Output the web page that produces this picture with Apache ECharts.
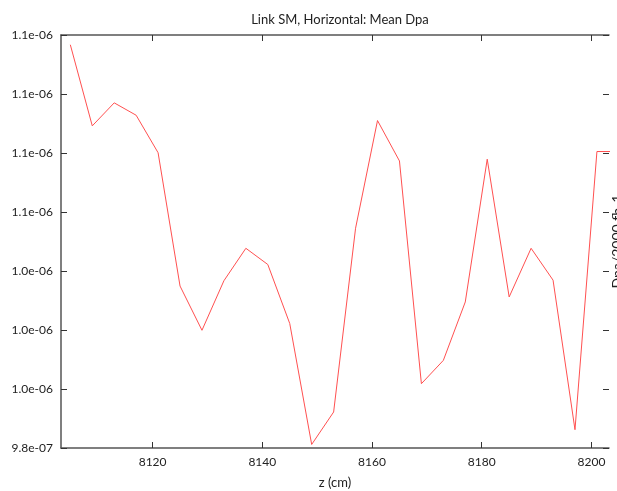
<!DOCTYPE html>
<html>
<head>
<meta charset="utf-8">
<script src="https://cdn.jsdelivr.net/npm/echarts@6/dist/echarts.min.js"></script>
<style>
  html, body { margin: 0; padding: 0; background: #fff; }
  #chart { width: 617px; height: 491px; }
</style>
</head>
<body>
<div id="chart"></div>
<script>
// z positions (cm) and mean Dpa
var zPos = [8105, 8109, 8113, 8117, 8121, 8125, 8129, 8133, 8137, 8141,
            8145, 8149, 8153, 8157, 8161, 8165, 8169, 8173, 8177, 8181,
            8185, 8189, 8193, 8197, 8201, 8205];
var meanDpa = [1.1167e-6, 1.0892e-6, 1.0970e-6, 1.0928e-6, 1.0801e-6, 1.0349e-6, 1.0199e-6, 1.0367e-6, 1.0477e-6, 1.0422e-6,
               1.0222e-6, 0.9812e-6, 0.9922e-6, 1.0545e-6, 1.0910e-6, 1.0773e-6, 1.0018e-6, 1.0097e-6, 1.0295e-6, 1.0779e-6,
               1.0312e-6, 1.0477e-6, 1.0369e-6, 0.9862e-6, 1.0805e-6, 1.0805e-6];
var xTicks = [8120, 8140, 8160, 8180, 8200];

var txtFont = 'Lato';
var axisCol = '#555';

function expLabel(v) {
  var s = v.toExponential(1);
  return s.replace(/e([+-])(\d)$/, 'e$10$2');
}

var pts = [];
for (var i = 0; i < zPos.length; i++) {
  pts.push([zPos[i], meanDpa[i]]);
}

var chart = echarts.init(document.getElementById('chart'));
var option = {
  animation: false,
  title: {
    text: 'Link SM, Horizontal: Mean Dpa',
    left: 335,
    top: 8,
    textAlign: 'center',
    textStyle: { fontFamily: txtFont, fontSize: 13, fontWeight: 'normal', color: '#222' }
  },
  grid: { left: 61, top: 35, right: 8, bottom: 43, outerBoundsMode: 'none', containLabel: false },
  xAxis: [{
    type: 'value',
    min: 8103.3,
    max: 8203.2,
    name: 'z (cm)',
    nameLocation: 'middle',
    nameGap: 28,
    nameTextStyle: { fontFamily: txtFont, fontSize: 13, color: '#222' },
    axisLine: { show: true, lineStyle: { color: axisCol, width: 1.5 } },
    axisTick: { show: true, inside: true, length: 6, customValues: xTicks, lineStyle: { color: '#333' } },
    axisLabel: {
      customValues: xTicks, margin: 8, fontFamily: txtFont, fontSize: 12, color: '#222',
      formatter: function (v) { return String(v); }
    },
    splitLine: { show: false }
  }, {
    type: 'value',
    position: 'top',
    min: 8103.3,
    max: 8203.2,
    axisLine: { show: true, lineStyle: { color: axisCol, width: 1.5 } },
    axisTick: { show: true, inside: true, length: 6, customValues: xTicks, lineStyle: { color: '#333' } },
    axisLabel: { show: false },
    splitLine: { show: false }
  }],
  yAxis: [{
    type: 'value',
    min: 0.98e-6,
    max: 1.12e-6,
    interval: 0.02e-6,
    axisLine: { show: true, lineStyle: { color: axisCol, width: 1.5 } },
    axisTick: { show: true, inside: true, length: 6, lineStyle: { color: '#333' } },
    axisLabel: { margin: 8, formatter: expLabel, fontFamily: txtFont, fontSize: 12, color: '#222' },
    splitLine: { show: false }
  }, {
    type: 'value',
    position: 'right',
    min: 0.98e-6,
    max: 1.12e-6,
    interval: 0.02e-6,
    name: 'Dpa/2000 fb-1',
    nameLocation: 'middle',
    nameRotate: 90,
    nameGap: 1,
    nameTextStyle: { fontFamily: txtFont, fontSize: 14, color: '#222' },
    axisLine: { show: false },
    axisTick: { show: true, inside: true, length: 6, lineStyle: { color: '#333' } },
    axisLabel: { show: false },
    splitLine: { show: false }
  }],
  series: [{
    type: 'line',
    data: pts,
    xAxisIndex: 0,
    yAxisIndex: 0,
    showSymbol: false,
    clip: true,
    lineStyle: { color: '#ff5050', width: 1 }
  }]
};
chart.setOption(option);
</script>
</body>
</html>
